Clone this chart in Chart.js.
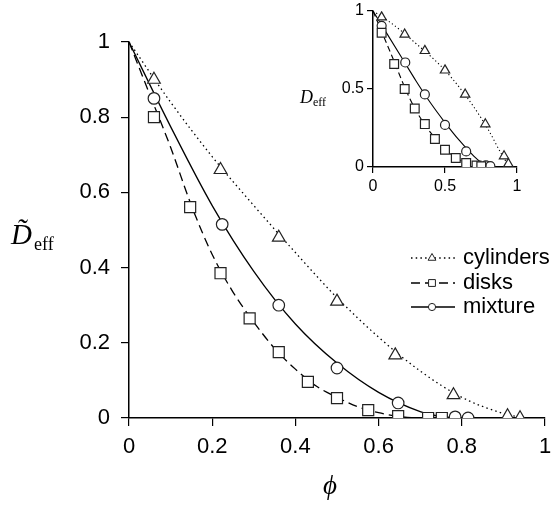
<!DOCTYPE html>
<html>
<head>
<meta charset="utf-8">
<script src="https://cdn.jsdelivr.net/npm/chart.js@4.4.1/dist/chart.umd.min.js"></script>
<style>
body { margin: 0; background: #fff; }
#wrap { position: relative; width: 558px; height: 506px; }
#main { position: absolute; left: 0; top: 0; }
#inset { position: absolute; left: 290px; top: 0; }
</style>
</head>
<body>
<div id="wrap">
  <canvas id="main" width="558" height="506"></canvas>
  <canvas id="inset" width="268" height="200"></canvas>
</div>
<script>
var nombres = ['cylinders', 'disks', 'mixture'];

// puntos medidos (D normalizado)
var cilPhi = [0.06, 0.22, 0.36, 0.50, 0.64, 0.78, 0.91, 0.94];
var cilD = [0.90, 0.66, 0.48, 0.31, 0.167, 0.061, 0.005, 0.0];
var discPhi = [0.06, 0.147, 0.22, 0.29, 0.36, 0.43, 0.50, 0.575, 0.647, 0.719, 0.752];
var discD = [0.80, 0.561, 0.385, 0.265, 0.175, 0.096, 0.053, 0.021, 0.005, 0.0, 0.0];
var mezPhi = [0.06, 0.224, 0.36, 0.50, 0.647, 0.784, 0.815];
var mezD = [0.85, 0.515, 0.30, 0.133, 0.04, 0.003, 0.0];

// curvas ajustadas
var cilCurvaX = [0, 0.1, 0.2, 0.3, 0.4, 0.5, 0.6, 0.7, 0.8, 0.9, 0.95];
var cilCurvaY = [1, 0.84, 0.695, 0.565, 0.44, 0.32, 0.215, 0.125, 0.055, 0.012, 0];
var discCurvaX = [0, 0.05, 0.1, 0.15, 0.2, 0.25, 0.3, 0.35, 0.4, 0.45, 0.5, 0.55, 0.6, 0.65, 0.7, 0.75];
var discCurvaY = [1, 0.86, 0.72, 0.565, 0.435, 0.335, 0.255, 0.185, 0.13, 0.085, 0.055, 0.03, 0.014, 0.004, 0, 0];
var mezCurvaX = [0, 0.1, 0.2, 0.3, 0.4, 0.5, 0.6, 0.7, 0.75, 0.8];
var mezCurvaY = [1, 0.775, 0.565, 0.39, 0.25, 0.146, 0.068, 0.017, 0.004, 0];

// recuadro: D sin normalizar
var inCilD = [0.96, 0.85, 0.745, 0.62, 0.465, 0.275, 0.07, 0.02];
var inDiscD = [0.86, 0.66, 0.50, 0.375, 0.275, 0.18, 0.11, 0.058, 0.025, 0.01, 0.005];
var inMezD = [0.905, 0.67, 0.465, 0.27, 0.10, 0.01, 0.005];
var inCilCurvaX = [0, 0.1, 0.2, 0.3, 0.4, 0.5, 0.6, 0.7, 0.8, 0.9, 0.95];
var inCilCurvaY = [1, 0.94, 0.87, 0.79, 0.71, 0.62, 0.51, 0.385, 0.24, 0.07, 0];
var inDiscCurvaX = [0, 0.05, 0.1, 0.15, 0.2, 0.25, 0.3, 0.35, 0.4, 0.45, 0.5, 0.55, 0.6, 0.65, 0.7, 0.75, 0.78];
var inDiscCurvaY = [1, 0.89, 0.78, 0.67, 0.555, 0.45, 0.36, 0.285, 0.22, 0.165, 0.115, 0.075, 0.045, 0.022, 0.01, 0.003, 0];
var inMezCurvaX = [0, 0.1, 0.2, 0.3, 0.4, 0.5, 0.6, 0.7, 0.75, 0.8];
var inMezCurvaY = [1, 0.85, 0.7, 0.55, 0.41, 0.285, 0.17, 0.07, 0.03, 0];

var ticksX = [0, 0.2, 0.4, 0.6, 0.8, 1];
var ticksInset = [0, 0.5, 1];

var sans = '"Liberation Sans", Arial, sans-serif';
var serif = '"Liberation Serif", "Times New Roman", serif';

function pts(xs, ys) {
  return xs.map(function (x, i) { return { x: x, y: ys[i] }; });
}

function marcas(data, estilo, radio) {
  return {
    data: data, pointStyle: estilo, pointRadius: radio, pointHoverRadius: radio,
    pointBackgroundColor: '#fff', pointBorderColor: '#222', pointBorderWidth: 1.2,
    showLine: false, order: 0
  };
}

function curva(data, dash, ancho) {
  return {
    data: data, showLine: true, pointRadius: 0, borderColor: '#000', borderWidth: ancho,
    borderDash: dash, cubicInterpolationMode: 'monotone', order: 1
  };
}

function etiqueta(v) {
  return String(+v.toFixed(2));
}

function eje(ticks, fuente, largo, pad, ajuste) {
  return {
    type: 'linear', min: 0, max: 1,
    afterBuildTicks: function (s) { s.ticks = ticks.map(function (v) { return { value: v }; }); },
    afterFit: ajuste,
    grid: { drawOnChartArea: false, tickLength: largo, color: '#000', lineWidth: 1.2 },
    border: { color: '#000', width: 1.5 },
    ticks: { color: '#000', font: { family: sans, size: fuente }, padding: pad, maxRotation: 0, callback: etiqueta }
  };
}

function ejes(ticks, fuente, largo, padX, padY, anchoY, altoX) {
  return {
    x: eje(ticks, fuente, largo, padX, function (s) {
      s.height = altoX; s.paddingLeft = 0; s.paddingRight = 0;
    }),
    y: eje(ticks, fuente, largo, padY, function (s) {
      s.width = anchoY; s.paddingTop = 0; s.paddingBottom = 0;
    })
  };
}

var textosMain = {
  id: 'textosMain',
  afterDraw: function (chart) {
    var ctx = chart.ctx;
    ctx.save();
    ctx.fillStyle = '#000';
    // etiqueta del eje y: D con tilde, subindice eff
    ctx.font = 'italic 29px ' + serif;
    ctx.textBaseline = 'alphabetic';
    ctx.fillText('D\u0303', 11, 244);
    ctx.font = '18px ' + serif;
    ctx.fillText('eff', 34, 250);
    // etiqueta del eje x
    ctx.font = 'italic 27px ' + serif;
    ctx.textAlign = 'center';
    ctx.fillText('\u03d5', 330, 494);

    // leyenda
    var filas = [258, 283, 307];
    ctx.textAlign = 'left';
    ctx.textBaseline = 'middle';
    nombres.forEach(function (nombre, i) {
      var m = chart.data.datasets[i];
      var c = chart.data.datasets[i + 3];
      var y = filas[i];
      ctx.strokeStyle = '#000';
      ctx.lineWidth = c.borderWidth;
      ctx.setLineDash(c.borderDash || []);
      ctx.beginPath();
      ctx.moveTo(411, y);
      ctx.lineTo(455, y);
      ctx.stroke();
      ctx.setLineDash([]);
      ctx.fillStyle = '#fff';
      ctx.strokeStyle = '#222';
      ctx.lineWidth = 1;
      Chart.helpers.drawPoint(ctx, { pointStyle: m.pointStyle, radius: m.pointRadius * 0.62, borderWidth: 1, rotation: 0 }, 432, y);
      ctx.fillStyle = '#000';
      ctx.font = '22px ' + sans;
      ctx.fillText(nombre, 463, y);
    });
    ctx.restore();
  }
};

var textosInset = {
  id: 'textosInset',
  afterDraw: function (chart) {
    var ctx = chart.ctx;
    ctx.save();
    ctx.fillStyle = '#000';
    ctx.font = 'italic 18px ' + serif;
    ctx.fillText('D', 10, 103);
    ctx.font = '12px ' + serif;
    ctx.fillText('eff', 23, 106);
    ctx.restore();
  }
};

new Chart(document.getElementById('main'), {
  type: 'scatter',
  data: {
    datasets: [
      marcas(pts(cilPhi, cilD), 'triangle', 7.3),
      marcas(pts(discPhi, discD), 'rect', 7.8),
      marcas(pts(mezPhi, mezD), 'circle', 5.8),
      curva(pts(cilCurvaX, cilCurvaY), [1.5, 3.2], 1.3),
      curva(pts(discCurvaX, discCurvaY), [9, 5], 1.3),
      curva(pts(mezCurvaX, mezCurvaY), [], 1.3)
    ]
  },
  options: {
    responsive: false,
    devicePixelRatio: 1,
    animation: false,
    layout: { padding: { top: 42, right: 13, left: 0, bottom: 0 } },
    plugins: { legend: { display: false }, tooltip: { enabled: false } },
    scales: ejes(ticksX, 22, 8, 8, 11, 129, 88)
  },
  plugins: [textosMain]
});

new Chart(document.getElementById('inset'), {
  type: 'scatter',
  data: {
    datasets: [
      marcas(pts(cilPhi, inCilD), 'triangle', 5.4),
      marcas(pts(discPhi, inDiscD), 'rect', 6.2),
      marcas(pts(mezPhi, inMezD), 'circle', 4.5),
      curva(pts(inCilCurvaX, inCilCurvaY), [1.2, 2.6], 1.1),
      curva(pts(inDiscCurvaX, inDiscCurvaY), [6, 3.5], 1.1),
      curva(pts(inMezCurvaX, inMezCurvaY), [], 1.1)
    ]
  },
  options: {
    responsive: false,
    devicePixelRatio: 1,
    animation: false,
    layout: { padding: { top: 11, right: 41, left: 0, bottom: 0 } },
    plugins: { legend: { display: false }, tooltip: { enabled: false } },
    scales: ejes(ticksInset, 16, 6, 4, 3, 83, 33)
  },
  plugins: [textosInset]
});
</script>
</body>
</html>
